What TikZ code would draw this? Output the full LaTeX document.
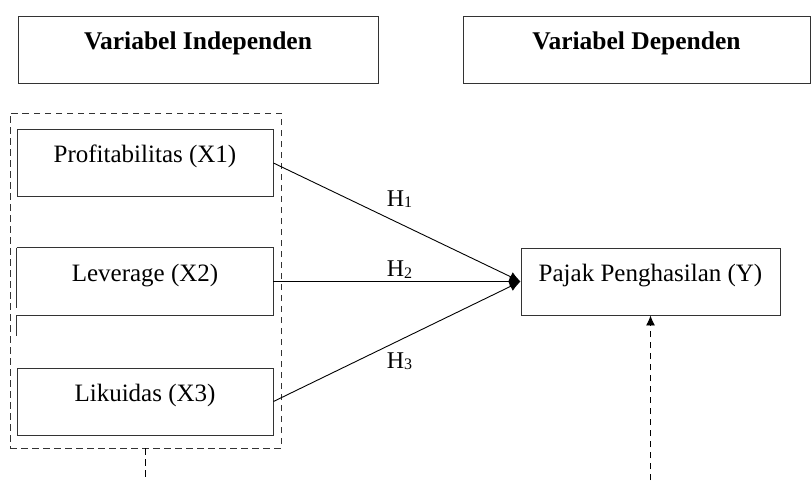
\documentclass[tikz,border=0pt]{standalone}
\usepackage{fontspec}
\setmainfont{Liberation Serif}
\usetikzlibrary{arrows.meta}

\newcommand{\hipo}[1]{H\raisebox{-1.5pt}{\fontsize{16}{16}\selectfont #1}}

\begin{document}
\begin{tikzpicture}[x=1pt, y=-1pt,
	kotak/.style={draw=black!80, line width=0.9pt, inner sep=0pt, text height=33pt, text depth=34pt, font=\fontsize{25}{29}\selectfont},
	judul/.style={kotak, font=\fontsize{25.5}{29}\selectfont\bfseries},
	garis/.style={line width=0.9pt, -{Latex[length=11pt, width=10pt]}},
	putus/.style={line width=0.9pt, dash pattern=on 6.5pt off 4.5pt},
	hipotesis/.style={inner sep=0pt, font=\fontsize{24}{28}\selectfont}]
	
	\useasboundingbox (0,0) rectangle (811,480);
	
	\node[judul, minimum width=360pt] (indep) at (198,49.5) {Variabel Independen};
	\node[judul, minimum width=347pt] (dep) at (636.5,49.5) {Variabel Dependen};
	
	\node[putus, draw=black!80, inner sep=0pt, minimum width=271pt, minimum height=335pt] (grup) at (145.5,280.5) {};
	
	\node[kotak, minimum width=256pt] (x1) at (145,163) {Profitabilitas (X1)};
	\node[kotak, draw=none, minimum width=256pt] (x2) at (145,281.5) {Leverage (X2)};
	\node[kotak, minimum width=256pt] (x3) at (145,401.5) {Likuidas (X3)};
	\node[kotak, minimum width=259pt] (y) at (650.5,281.5) {Pajak Penghasilan (Y)};
	
	\draw[draw=black!80, line width=0.9pt] (x2.north west) -- ++(0,60);
	\draw[draw=black!80, line width=0.9pt] (x2.north west) -- (x2.north east) -- (x2.south east) -- (x2.south west) -- ++(0,21);
	
	\draw[garis] (x1.east) -- node[hipotesis, pos=.51, above=15pt] {\hipo{1}} (y.west);
	\draw[garis] (x2.east) -- node[hipotesis, pos=.51, above=3pt] {\hipo{2}} (y.west);
	\draw[garis] (x3.east) -- node[hipotesis, pos=.51, below=12pt] {\hipo{3}} (y.west);
	
	\coordinate (ujungkiri) at (grup.south |- 0,480);
	\coordinate (ujungkanan) at (y.south |- 0,480);
	\draw[putus] (grup.south) -- (ujungkiri);
	\draw[putus, -{Latex[length=10pt, width=9pt]}] (ujungkanan) -- (y.south);
	
\end{tikzpicture}
\end{document}
